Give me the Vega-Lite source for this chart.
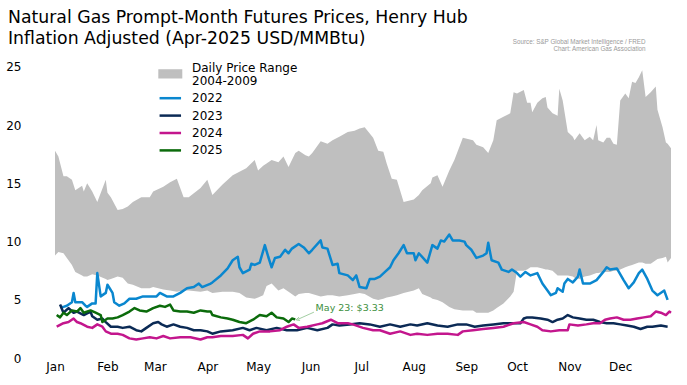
{
  "$schema": "https://vega.github.io/schema/vega-lite/v6.json",
  "width": 616,
  "height": 291.5,
  "autosize": {"type": "none"},
  "padding": {"left": 55, "top": 66.7, "right": 16, "bottom": 26.8},
  "background": "white",
  "config": {"view": {"stroke": null}, "font": "DejaVu Sans"},
  "title": {
    "text": ["Natural Gas Prompt-Month Futures Prices, Henry Hub", "Inflation Adjusted (Apr-2025 USD/MMBtu)"],
    "anchor": "start",
    "frame": "group",
    "font": "DejaVu Sans",
    "fontSize": 17.3,
    "fontWeight": "normal",
    "color": "#000000",
    "lineHeight": 21,
    "dx": -47,
    "dy": 18.5,
    "offset": 10
  },
  "datasets": {
    "band": [
      {"day":0,"low":8.8,"high":17.8},{"day":2,"low":9.1,"high":17.3},{"day":5,"low":9.0,"high":15.6},{"day":7,"low":8.6,"high":15.6},
      {"day":10,"low":8.0,"high":15.3},{"day":12,"low":7.4,"high":14.4},{"day":16,"low":7.1,"high":14.8},{"day":17,"low":7.0,"high":14.3},
      {"day":19,"low":7.0,"high":15.0},{"day":22,"low":7.2,"high":14.3},{"day":25,"low":7.1,"high":13.4},{"day":30,"low":6.8,"high":15.3},
      {"day":31,"low":6.7,"high":14.2},{"day":33,"low":6.8,"high":13.8},{"day":37,"low":7.0,"high":12.7},{"day":40,"low":6.9,"high":12.8},
      {"day":43,"low":6.4,"high":13.0},{"day":46,"low":6.3,"high":13.4},{"day":51,"low":6.0,"high":13.8},{"day":56,"low":6.0,"high":13.8},
      {"day":58,"low":6.1,"high":14.3},{"day":64,"low":5.9,"high":14.7},{"day":68,"low":5.8,"high":15.1},{"day":72,"low":5.7,"high":15.4},
      {"day":76,"low":5.8,"high":13.8},{"day":79,"low":5.8,"high":13.8},{"day":86,"low":5.7,"high":14.6},{"day":90,"low":5.8,"high":15.3},
      {"day":93,"low":5.6,"high":14.0},{"day":99,"low":5.7,"high":14.9},{"day":105,"low":5.7,"high":15.7},{"day":109,"low":5.6,"high":16.0},
      {"day":113,"low":5.2,"high":16.3},{"day":118,"low":5.1,"high":17.0},{"day":120,"low":5.2,"high":16.1},{"day":123,"low":5.4,"high":16.5},
      {"day":125,"low":6.2,"high":16.7},{"day":128,"low":6.4,"high":17.0},{"day":132,"low":5.8,"high":16.8},{"day":135,"low":6.0,"high":17.3},
      {"day":138,"low":5.7,"high":16.4},{"day":142,"low":5.3,"high":17.6},{"day":144,"low":5.5,"high":17.8},{"day":148,"low":5.6,"high":17.4},
      {"day":150,"low":5.6,"high":17.3},{"day":152,"low":5.5,"high":17.6},{"day":157,"low":5.3,"high":18.6},{"day":161,"low":5.4,"high":18.4},
      {"day":164,"low":5.4,"high":18.7},{"day":168,"low":5.3,"high":19.0},{"day":173,"low":5.4,"high":19.4},{"day":177,"low":5.5,"high":19.5},
      {"day":180,"low":5.6,"high":19.7},{"day":183,"low":5.5,"high":19.8},{"day":188,"low":5.1,"high":18.9},{"day":191,"low":5.0,"high":17.8},
      {"day":194,"low":5.1,"high":17.7},{"day":196,"low":5.2,"high":16.7},{"day":199,"low":5.3,"high":15.4},{"day":202,"low":5.4,"high":15.3},
      {"day":206,"low":5.6,"high":13.4},{"day":212,"low":5.8,"high":13.6},{"day":215,"low":6.0,"high":14.0},{"day":217,"low":5.5,"high":14.4},
      {"day":222,"low":5.2,"high":15.0},{"day":223,"low":5.1,"high":15.5},{"day":226,"low":5.0,"high":15.7},{"day":229,"low":4.8,"high":14.7},
      {"day":233,"low":4.4,"high":16.1},{"day":236,"low":4.2,"high":17.0},{"day":241,"low":4.1,"high":18.9},{"day":247,"low":4.1,"high":18.7},
      {"day":249,"low":3.9,"high":18.3},{"day":253,"low":3.9,"high":18.1},{"day":256,"low":3.9,"high":17.6},{"day":259,"low":4.1,"high":18.7},
      {"day":261,"low":4.3,"high":20.4},{"day":265,"low":4.7,"high":20.7},{"day":269,"low":5.3,"high":21.0},{"day":271,"low":5.7,"high":22.8},
      {"day":273,"low":7.5,"high":22.7},{"day":277,"low":7.5,"high":23.0},{"day":279,"low":7.6,"high":21.9},{"day":281,"low":7.8,"high":21.9},
      {"day":282,"low":7.8,"high":21.1},{"day":285,"low":7.8,"high":21.9},{"day":288,"low":7.7,"high":22.3},{"day":290,"low":7.6,"high":22.4},
      {"day":291,"low":7.6,"high":21.5},{"day":294,"low":7.5,"high":21.0},{"day":297,"low":7.1,"high":20.8},{"day":298,"low":7.1,"high":23.1},
      {"day":300,"low":7.1,"high":22.1},{"day":303,"low":7.1,"high":19.4},{"day":306,"low":7.0,"high":19.0},{"day":307,"low":6.9,"high":18.7},
      {"day":310,"low":6.8,"high":19.3},{"day":313,"low":7.0,"high":18.7},{"day":316,"low":7.1,"high":19.0},{"day":318,"low":7.2,"high":18.7},
      {"day":320,"low":7.3,"high":20.0},{"day":321,"low":7.3,"high":18.7},{"day":324,"low":7.4,"high":18.5},{"day":326,"low":7.4,"high":18.9},
      {"day":328,"low":7.4,"high":18.9},{"day":330,"low":7.5,"high":18.4},{"day":332,"low":7.5,"high":18.3},{"day":334,"low":7.6,"high":22.1},
      {"day":337,"low":7.8,"high":22.7},{"day":339,"low":7.9,"high":22.3},{"day":341,"low":8.0,"high":23.7},{"day":343,"low":8.1,"high":23.6},
      {"day":345,"low":8.2,"high":24.1},{"day":347,"low":8.2,"high":24.7},{"day":349,"low":8.1,"high":22.4},{"day":352,"low":8.1,"high":22.8},
      {"day":355,"low":8.4,"high":23.3},{"day":356,"low":8.5,"high":21.3},{"day":359,"low":8.6,"high":19.8},{"day":361,"low":8.7,"high":18.5},
      {"day":362,"low":8.2,"high":18.4},{"day":364,"low":8.6,"high":18.0}
    ],
    "prices": [
      {"series":"2022","day":3,"price":4.4},{"series":"2022","day":5,"price":4.4},{"series":"2022","day":7,"price":4.5},{"series":"2022","day":10,"price":4.8},
      {"series":"2022","day":11,"price":5.6},{"series":"2022","day":12,"price":4.8},{"series":"2022","day":16,"price":4.8},{"series":"2022","day":18,"price":4.5},
      {"series":"2022","day":19,"price":4.4},{"series":"2022","day":22,"price":4.7},{"series":"2022","day":24,"price":4.7},{"series":"2022","day":25,"price":7.3},
      {"series":"2022","day":27,"price":5.3},{"series":"2022","day":30,"price":5.6},{"series":"2022","day":31,"price":6.3},{"series":"2022","day":34,"price":5.6},
      {"series":"2022","day":35,"price":4.8},{"series":"2022","day":38,"price":4.5},{"series":"2022","day":41,"price":4.7},{"series":"2022","day":44,"price":5.1},
      {"series":"2022","day":48,"price":5.1},{"series":"2022","day":52,"price":5.3},{"series":"2022","day":56,"price":5.3},{"series":"2022","day":60,"price":5.3},
      {"series":"2022","day":62,"price":5.6},{"series":"2022","day":66,"price":5.3},{"series":"2022","day":70,"price":5.3},{"series":"2022","day":74,"price":5.6},
      {"series":"2022","day":78,"price":6.0},{"series":"2022","day":82,"price":6.1},{"series":"2022","day":85,"price":6.4},{"series":"2022","day":87,"price":6.1},
      {"series":"2022","day":92,"price":6.4},{"series":"2022","day":93,"price":6.5},{"series":"2022","day":98,"price":7.1},{"series":"2022","day":102,"price":7.7},
      {"series":"2022","day":105,"price":8.4},{"series":"2022","day":108,"price":8.7},{"series":"2022","day":109,"price":7.8},{"series":"2022","day":111,"price":7.3},
      {"series":"2022","day":115,"price":7.6},{"series":"2022","day":116,"price":8.1},{"series":"2022","day":118,"price":8.0},{"series":"2022","day":121,"price":8.2},
      {"series":"2022","day":124,"price":9.7},{"series":"2022","day":126,"price":8.7},{"series":"2022","day":128,"price":7.8},{"series":"2022","day":130,"price":8.6},
      {"series":"2022","day":133,"price":8.7},{"series":"2022","day":136,"price":9.3},{"series":"2022","day":138,"price":9.0},{"series":"2022","day":140,"price":9.4},
      {"series":"2022","day":144,"price":9.8},{"series":"2022","day":147,"price":9.5},{"series":"2022","day":150,"price":9.0},{"series":"2022","day":152,"price":9.3},
      {"series":"2022","day":157,"price":10.1},{"series":"2022","day":158,"price":9.5},{"series":"2022","day":161,"price":9.4},{"series":"2022","day":164,"price":8.0},
      {"series":"2022","day":167,"price":8.1},{"series":"2022","day":168,"price":7.3},{"series":"2022","day":173,"price":7.1},{"series":"2022","day":176,"price":6.7},
      {"series":"2022","day":178,"price":7.1},{"series":"2022","day":180,"price":6.1},{"series":"2022","day":184,"price":6.0},{"series":"2022","day":186,"price":6.8},
      {"series":"2022","day":189,"price":6.8},{"series":"2022","day":192,"price":7.0},{"series":"2022","day":195,"price":7.4},{"series":"2022","day":198,"price":7.8},
      {"series":"2022","day":200,"price":8.4},{"series":"2022","day":203,"price":9.0},{"series":"2022","day":206,"price":9.7},{"series":"2022","day":208,"price":9.0},
      {"series":"2022","day":212,"price":9.0},{"series":"2022","day":213,"price":8.4},{"series":"2022","day":215,"price":9.0},{"series":"2022","day":220,"price":8.2},
      {"series":"2022","day":223,"price":9.7},{"series":"2022","day":226,"price":9.4},{"series":"2022","day":228,"price":10.1},{"series":"2022","day":230,"price":10.0},
      {"series":"2022","day":233,"price":10.6},{"series":"2022","day":235,"price":10.1},{"series":"2022","day":239,"price":10.1},{"series":"2022","day":242,"price":10.0},
      {"series":"2022","day":243,"price":9.7},{"series":"2022","day":246,"price":9.3},{"series":"2022","day":249,"price":8.6},{"series":"2022","day":253,"price":8.8},
      {"series":"2022","day":255,"price":9.0},{"series":"2022","day":256,"price":9.9},{"series":"2022","day":258,"price":8.4},{"series":"2022","day":262,"price":8.2},
      {"series":"2022","day":264,"price":7.6},{"series":"2022","day":268,"price":7.4},{"series":"2022","day":270,"price":7.6},{"series":"2022","day":273,"price":7.3},
      {"series":"2022","day":275,"price":7.0},{"series":"2022","day":278,"price":7.4},{"series":"2022","day":281,"price":7.1},{"series":"2022","day":285,"price":7.3},
      {"series":"2022","day":288,"price":6.4},{"series":"2022","day":291,"price":5.8},{"series":"2022","day":293,"price":5.4},{"series":"2022","day":296,"price":5.6},
      {"series":"2022","day":297,"price":6.0},{"series":"2022","day":300,"price":5.7},{"series":"2022","day":301,"price":6.4},{"series":"2022","day":303,"price":6.8},
      {"series":"2022","day":306,"price":6.5},{"series":"2022","day":309,"price":7.0},{"series":"2022","day":310,"price":7.6},{"series":"2022","day":312,"price":6.4},
      {"series":"2022","day":316,"price":6.4},{"series":"2022","day":320,"price":6.7},{"series":"2022","day":324,"price":7.4},{"series":"2022","day":326,"price":7.8},
      {"series":"2022","day":328,"price":7.6},{"series":"2022","day":332,"price":7.7},{"series":"2022","day":336,"price":6.7},{"series":"2022","day":339,"price":6.0},
      {"series":"2022","day":342,"price":6.5},{"series":"2022","day":345,"price":7.3},{"series":"2022","day":347,"price":7.6},{"series":"2022","day":350,"price":6.8},
      {"series":"2022","day":353,"price":5.8},{"series":"2022","day":356,"price":5.4},{"series":"2022","day":360,"price":5.8},{"series":"2022","day":362,"price":5.0},

      {"series":"2023","day":3,"price":4.6},{"series":"2023","day":5,"price":3.9},{"series":"2023","day":8,"price":4.3},{"series":"2023","day":11,"price":3.9},
      {"series":"2023","day":13,"price":4.0},{"series":"2023","day":17,"price":3.7},{"series":"2023","day":21,"price":4.0},{"series":"2023","day":22,"price":3.6},
      {"series":"2023","day":25,"price":3.3},{"series":"2023","day":28,"price":3.4},{"series":"2023","day":30,"price":3.1},{"series":"2023","day":33,"price":2.7},
      {"series":"2023","day":37,"price":2.7},{"series":"2023","day":40,"price":2.6},{"series":"2023","day":44,"price":2.7},{"series":"2023","day":48,"price":2.4},
      {"series":"2023","day":51,"price":2.3},{"series":"2023","day":54,"price":2.6},{"series":"2023","day":58,"price":3.0},{"series":"2023","day":61,"price":3.1},
      {"series":"2023","day":63,"price":2.9},{"series":"2023","day":66,"price":2.7},{"series":"2023","day":70,"price":2.9},{"series":"2023","day":74,"price":2.7},
      {"series":"2023","day":78,"price":2.6},{"series":"2023","day":82,"price":2.4},{"series":"2023","day":86,"price":2.4},{"series":"2023","day":90,"price":2.3},
      {"series":"2023","day":93,"price":2.1},{"series":"2023","day":98,"price":2.3},{"series":"2023","day":105,"price":2.4},{"series":"2023","day":111,"price":2.6},
      {"series":"2023","day":115,"price":2.4},{"series":"2023","day":119,"price":2.6},{"series":"2023","day":125,"price":2.4},{"series":"2023","day":131,"price":2.6},
      {"series":"2023","day":137,"price":2.4},{"series":"2023","day":143,"price":2.4},{"series":"2023","day":149,"price":2.6},{"series":"2023","day":155,"price":2.4},
      {"series":"2023","day":161,"price":2.6},{"series":"2023","day":164,"price":2.9},{"series":"2023","day":168,"price":2.8},{"series":"2023","day":174,"price":2.9},
      {"series":"2023","day":180,"price":3.0},{"series":"2023","day":186,"price":2.9},{"series":"2023","day":192,"price":2.7},{"series":"2023","day":198,"price":2.9},
      {"series":"2023","day":204,"price":2.7},{"series":"2023","day":210,"price":2.9},{"series":"2023","day":214,"price":2.8},{"series":"2023","day":220,"price":3.0},
      {"series":"2023","day":226,"price":2.8},{"series":"2023","day":232,"price":2.7},{"series":"2023","day":238,"price":2.9},{"series":"2023","day":243,"price":2.9},
      {"series":"2023","day":248,"price":2.7},{"series":"2023","day":253,"price":2.8},{"series":"2023","day":259,"price":2.9},{"series":"2023","day":265,"price":3.0},
      {"series":"2023","day":271,"price":3.0},{"series":"2023","day":275,"price":3.0},{"series":"2023","day":277,"price":3.4},{"series":"2023","day":279,"price":3.5},
      {"series":"2023","day":282,"price":3.5},{"series":"2023","day":287,"price":3.4},{"series":"2023","day":291,"price":3.3},{"series":"2023","day":294,"price":3.1},
      {"series":"2023","day":297,"price":3.3},{"series":"2023","day":300,"price":3.4},{"series":"2023","day":303,"price":3.7},{"series":"2023","day":306,"price":3.5},
      {"series":"2023","day":310,"price":3.4},{"series":"2023","day":314,"price":3.3},{"series":"2023","day":318,"price":3.3},{"series":"2023","day":322,"price":3.1},
      {"series":"2023","day":326,"price":3.0},{"series":"2023","day":330,"price":3.0},{"series":"2023","day":334,"price":2.9},{"series":"2023","day":338,"price":2.8},
      {"series":"2023","day":342,"price":2.7},{"series":"2023","day":346,"price":2.5},{"series":"2023","day":350,"price":2.7},{"series":"2023","day":353,"price":2.7},
      {"series":"2023","day":358,"price":2.8},{"series":"2023","day":362,"price":2.7},

      {"series":"2024","day":1,"price":2.7},{"series":"2024","day":5,"price":3.0},{"series":"2024","day":8,"price":3.1},{"series":"2024","day":11,"price":3.4},
      {"series":"2024","day":13,"price":3.1},{"series":"2024","day":15,"price":3.0},{"series":"2024","day":19,"price":2.7},{"series":"2024","day":22,"price":2.6},
      {"series":"2024","day":25,"price":2.9},{"series":"2024","day":28,"price":2.7},{"series":"2024","day":30,"price":2.3},{"series":"2024","day":33,"price":2.1},
      {"series":"2024","day":37,"price":2.1},{"series":"2024","day":40,"price":2.0},{"series":"2024","day":44,"price":1.7},{"series":"2024","day":48,"price":1.6},
      {"series":"2024","day":52,"price":1.7},{"series":"2024","day":56,"price":1.8},{"series":"2024","day":60,"price":1.7},{"series":"2024","day":64,"price":1.9},
      {"series":"2024","day":68,"price":1.7},{"series":"2024","day":74,"price":1.8},{"series":"2024","day":80,"price":1.8},{"series":"2024","day":86,"price":1.6},
      {"series":"2024","day":90,"price":1.8},{"series":"2024","day":93,"price":1.8},{"series":"2024","day":98,"price":1.9},{"series":"2024","day":105,"price":1.9},
      {"series":"2024","day":111,"price":2.0},{"series":"2024","day":114,"price":1.7},{"series":"2024","day":117,"price":2.1},{"series":"2024","day":121,"price":2.3},
      {"series":"2024","day":127,"price":2.3},{"series":"2024","day":133,"price":2.4},{"series":"2024","day":137,"price":2.7},{"series":"2024","day":141,"price":2.9},
      {"series":"2024","day":144,"price":2.6},{"series":"2024","day":149,"price":2.7},{"series":"2024","day":155,"price":2.9},{"series":"2024","day":158,"price":3.0},
      {"series":"2024","day":163,"price":3.3},{"series":"2024","day":167,"price":3.0},{"series":"2024","day":173,"price":3.0},{"series":"2024","day":176,"price":2.9},
      {"series":"2024","day":182,"price":2.6},{"series":"2024","day":188,"price":2.4},{"series":"2024","day":192,"price":2.4},{"series":"2024","day":198,"price":2.1},
      {"series":"2024","day":204,"price":2.3},{"series":"2024","day":210,"price":2.0},{"series":"2024","day":214,"price":2.1},{"series":"2024","day":220,"price":2.0},
      {"series":"2024","day":226,"price":2.1},{"series":"2024","day":232,"price":2.1},{"series":"2024","day":238,"price":2.0},{"series":"2024","day":241,"price":2.3},
      {"series":"2024","day":247,"price":2.4},{"series":"2024","day":253,"price":2.5},{"series":"2024","day":259,"price":2.6},{"series":"2024","day":265,"price":2.7},
      {"series":"2024","day":271,"price":3.0},{"series":"2024","day":277,"price":3.1},{"series":"2024","day":281,"price":2.9},{"series":"2024","day":285,"price":2.7},
      {"series":"2024","day":288,"price":2.4},{"series":"2024","day":293,"price":2.3},{"series":"2024","day":298,"price":2.4},{"series":"2024","day":303,"price":2.4},
      {"series":"2024","day":304,"price":2.9},{"series":"2024","day":309,"price":2.8},{"series":"2024","day":314,"price":2.9},{"series":"2024","day":318,"price":3.0},
      {"series":"2024","day":322,"price":3.0},{"series":"2024","day":325,"price":3.3},{"series":"2024","day":328,"price":3.4},{"series":"2024","day":332,"price":3.5},
      {"series":"2024","day":336,"price":3.3},{"series":"2024","day":340,"price":3.3},{"series":"2024","day":344,"price":3.4},{"series":"2024","day":348,"price":3.5},
      {"series":"2024","day":352,"price":3.6},{"series":"2024","day":355,"price":4.0},{"series":"2024","day":358,"price":3.9},{"series":"2024","day":361,"price":3.7},
      {"series":"2024","day":363,"price":4.0},{"series":"2024","day":364,"price":3.9},

      {"series":"2025","day":1,"price":3.7},{"series":"2025","day":3,"price":3.5},{"series":"2025","day":5,"price":3.9},{"series":"2025","day":7,"price":3.7},
      {"series":"2025","day":10,"price":4.1},{"series":"2025","day":13,"price":4.0},{"series":"2025","day":15,"price":4.3},{"series":"2025","day":17,"price":3.9},
      {"series":"2025","day":21,"price":4.1},{"series":"2025","day":24,"price":3.9},{"series":"2025","day":27,"price":3.7},{"series":"2025","day":28,"price":3.1},
      {"series":"2025","day":31,"price":3.4},{"series":"2025","day":34,"price":3.4},{"series":"2025","day":37,"price":3.5},{"series":"2025","day":40,"price":3.7},
      {"series":"2025","day":44,"price":4.0},{"series":"2025","day":47,"price":4.3},{"series":"2025","day":50,"price":4.1},{"series":"2025","day":54,"price":4.0},
      {"series":"2025","day":58,"price":4.3},{"series":"2025","day":62,"price":4.5},{"series":"2025","day":65,"price":4.4},{"series":"2025","day":68,"price":4.6},
      {"series":"2025","day":70,"price":4.1},{"series":"2025","day":74,"price":4.0},{"series":"2025","day":78,"price":4.0},{"series":"2025","day":82,"price":3.9},
      {"series":"2025","day":86,"price":4.1},{"series":"2025","day":90,"price":4.0},{"series":"2025","day":92,"price":4.0},{"series":"2025","day":93,"price":3.7},
      {"series":"2025","day":98,"price":3.5},{"series":"2025","day":102,"price":3.4},{"series":"2025","day":105,"price":3.3},{"series":"2025","day":109,"price":3.1},
      {"series":"2025","day":113,"price":3.0},{"series":"2025","day":117,"price":3.3},{"series":"2025","day":121,"price":3.7},{"series":"2025","day":125,"price":3.6},
      {"series":"2025","day":128,"price":3.9},{"series":"2025","day":131,"price":3.5},{"series":"2025","day":135,"price":3.4},{"series":"2025","day":138,"price":3.1},
      {"series":"2025","day":140,"price":3.4},{"series":"2025","day":142,"price":3.33}
    ],
    "note": [
      {"label":"May 23: $3.33","day":143.5,"price":3.33,"textDay":154,"textPrice":4.3,"arrowDay":153,"arrowPrice":3.95}
    ],
    "source": [
      {"line":"Source: S&P Global Market Intelligence / FRED","day":349,"price":27.1},
      {"line":"Chart: American Gas Association","day":349,"price":26.5}
    ]
  },
  "layer": [
    {
      "data": {"name": "band"},
      "mark": {"type": "area", "opacity": 1, "interpolate": "linear"},
      "encoding": {
        "x": {"field": "day", "type": "quantitative"},
        "y": {"field": "low", "type": "quantitative"},
        "y2": {"field": "high"},
        "color": {"datum": "Range"}
      }
    },
    {
      "data": {"name": "prices"},
      "mark": {"type": "line", "strokeWidth": 2.5, "strokeJoin": "round"},
      "encoding": {
        "x": {
          "field": "day", "type": "quantitative",
          "scale": {"domain": [0, 364], "nice": false, "zero": false},
          "axis": {
            "title": null, "domain": false, "ticks": false, "grid": false,
            "values": [0,31,59,90,120,151,181,212,243,273,304,334],
            "labelExpr": "['Jan','Feb','Mar','Apr','May','Jun','Jul','Aug','Sep','Oct','Nov','Dec'][indexof([0,31,59,90,120,151,181,212,243,273,304,334], datum.value)]",
            "labelFont": "DejaVu Sans", "labelFontSize": 12, "labelColor": "#000000",
            "labelPadding": 3, "labelFlush": false, "labelOverlap": false
          }
        },
        "y": {
          "field": "price", "type": "quantitative",
          "scale": {"domain": [0, 25], "nice": false},
          "axis": {
            "title": null, "domain": false, "ticks": false, "grid": false,
            "values": [0,5,10,15,20,25],
            "labelFont": "DejaVu Sans", "labelFontSize": 12, "labelColor": "#000000",
            "labelPadding": 34
          }
        },
        "color": {
          "field": "series", "type": "nominal",
          "scale": {
            "domain": ["Range","2022","2023","2024","2025"],
            "range": ["#bfbfbf","#0a87cf","#0b2a55","#c3168d","#0b6b0b"]
          },
          "legend": {
            "title": null,
            "orient": "none",
            "legendX": 107.8,
            "legendY": -0.4,
            "padding": 0,
            "labelFont": "DejaVu Sans",
            "labelFontSize": 12,
            "labelColor": "#000000",
            "labelOffset": 14.2,
            "rowPadding": 3.4,
            "symbolSize": 144,
            "symbolStrokeWidth": 2.5,
            "labelExpr": "datum.value == 'Range' ? ['Daily Price Range', '2004-2009'] : datum.label",
            "encode": {
              "symbols": {
                "update": {
                  "shape": {"signal": "datum.value == 'Range' ? 'M-1.79,-0.57H1.79V0.57H-1.79Z' : 'M-1.79,0H1.79'"},
                  "fill": {"signal": "datum.value == 'Range' ? '#bfbfbf' : 'transparent'"},
                  "stroke": {"signal": "datum.value == 'Range' ? 'transparent' : scale('color', datum.value)"},
                  "strokeWidth": {"value": 2.5},
                  "opacity": {"value": 1}
                }
              },
              "labels": {
                "update": {
                  "lineHeight": {"value": 13},
                  "dy": {"signal": "datum.value == 'Range' ? -6 : 0"}
                }
              }
            }
          }
        },
        "order": {"field": "day", "type": "quantitative"}
      }
    },
    {
      "data": {"name": "note"},
      "mark": {"type": "rule", "color": "#8cc28c", "strokeWidth": 0.8},
      "encoding": {
        "x": {"field": "day", "type": "quantitative"},
        "y": {"field": "price", "type": "quantitative"},
        "x2": {"field": "arrowDay"},
        "y2": {"field": "arrowPrice"}
      }
    },
    {
      "data": {"name": "note"},
      "mark": {"type": "point", "shape": "M1,-1L-1,0L1,1", "filled": false, "stroke": "#8cc28c", "strokeWidth": 0.8, "size": 12, "angle": -20, "opacity": 1},
      "encoding": {
        "x": {"field": "day", "type": "quantitative"},
        "y": {"field": "price", "type": "quantitative"}
      }
    },
    {
      "data": {"name": "note"},
      "mark": {"type": "text", "align": "left", "baseline": "middle", "font": "DejaVu Sans", "fontSize": 9.5, "color": "#3d8f3d"},
      "encoding": {
        "x": {"field": "textDay", "type": "quantitative"},
        "y": {"field": "textPrice", "type": "quantitative"},
        "text": {"field": "label"}
      }
    },
    {
      "data": {"name": "source"},
      "mark": {"type": "text", "align": "right", "baseline": "middle", "font": "Liberation Sans", "fontSize": 6.3, "color": "#9a9a9a"},
      "encoding": {
        "x": {"field": "day", "type": "quantitative"},
        "y": {"field": "price", "type": "quantitative"},
        "text": {"field": "line"}
      }
    }
  ]
}
